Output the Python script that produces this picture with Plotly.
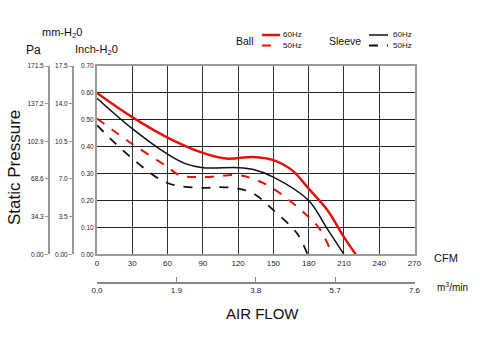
import plotly.graph_objects as go

# ---- data (CFM vs inch-H2O) ----
ball60_x = [0, 30, 60, 90, 110, 133, 150, 166, 180, 196, 210, 220]
ball60_y = [0.60, 0.51, 0.434, 0.377, 0.356, 0.362, 0.35, 0.312, 0.244, 0.164, 0.064, 0.0]

ball50_x = [0, 30, 60, 70, 90, 120, 133, 150, 180, 190, 200]
ball50_y = [0.505, 0.41, 0.325, 0.294, 0.287, 0.294, 0.28, 0.244, 0.139, 0.09, 0.0]

sleeve60_x = [0, 30, 60, 75, 90, 120, 133, 150, 180, 195, 210]
sleeve60_y = [0.58, 0.467, 0.372, 0.337, 0.322, 0.322, 0.315, 0.287, 0.2, 0.10, 0.0]

sleeve50_x = [0, 30, 60, 90, 105, 120, 133, 150, 170, 179]
sleeve50_y = [0.48, 0.356, 0.265, 0.247, 0.25, 0.244, 0.226, 0.164, 0.078, 0.0]

cfm_ticks = [0, 30, 60, 90, 120, 150, 180, 210, 240, 270]
inch_ticks = [0.0, 0.1, 0.2, 0.3, 0.4, 0.5, 0.6, 0.7]
m3_ticks = [0.0, 1.9, 3.8, 5.7, 7.6]
m3_labels = ["0.0", "1.9", "3.8", "5.7", "7.6"]
pa_ticks = [0, 34.3, 68.6, 102.9, 137.2, 171.5]
pa_labels = ["0.00", "34.3", "68.6", "102.9", "137.2", "171.5"]
mm_ticks = [0, 3.5, 7.0, 10.5, 14.0, 17.5]
mm_labels = ["0.00", "3.5", "7.0", "10.5", "14.0", "17.5"]

groups = ["Ball", "Sleeve"]
freqs = ["60Hz", "50Hz"]

FONT = "Liberation Sans Narrow, Liberation Sans, Arial, sans-serif"
SANS = "Liberation Sans, Arial, sans-serif"
RED = "#e3120b"
BLK = "#111111"

series = [
    (ball60_x, ball60_y, RED, 2.5, "solid"),
    (ball50_x, ball50_y, RED, 2.0, "dash"),
    (sleeve60_x, sleeve60_y, BLK, 1.5, "solid"),
    (sleeve50_x, sleeve50_y, BLK, 1.8, "dash"),
]

fig = go.Figure()
for xs, ys, c, w, d in series:
    fig.add_trace(go.Scatter(x=xs, y=ys, mode="lines", showlegend=False,
                             line=dict(color=c, width=w, dash=d, shape="spline")))
# empty traces to activate the secondary axes
fig.add_trace(go.Scatter(x=[], y=[], xaxis="x2", yaxis="y", showlegend=False, hoverinfo="skip"))
fig.add_trace(go.Scatter(x=[], y=[], xaxis="x", yaxis="y2", showlegend=False, hoverinfo="skip"))
fig.add_trace(go.Scatter(x=[], y=[], xaxis="x", yaxis="y3", showlegend=False, hoverinfo="skip"))

W, H = 480, 339
ML, MR, MT, MB = 20, 20, 20, 20
pw, ph = W - ML - MR, H - MT - MB
def px(x): return (x - ML) / pw
def py(y): return (H - MB - y) / ph

xdom = [px(97), px(414.5)]
ydom = [py(254.3), py(66)]

fig.update_layout(
    width=W, height=H, margin=dict(l=ML, r=MR, t=MT, b=MB),
    paper_bgcolor="white", plot_bgcolor="white", showlegend=False,
    font=dict(family=FONT, color="#222", size=8),
    xaxis=dict(domain=xdom, range=[0, 270], tickvals=cfm_ticks, showgrid=True,
               gridcolor="#333", gridwidth=1.3, showline=True, linecolor="#999",
               linewidth=2, mirror=True, zeroline=False, ticks="",
               tickfont=dict(size=8, family=FONT), anchor="y"),
    yaxis=dict(domain=ydom, range=[0, 0.7], tickvals=inch_ticks, tickformat=".2f",
               showgrid=True, gridcolor="#222", gridwidth=1.3, showline=True,
               linecolor="#999", linewidth=2, mirror=True, zeroline=False, ticks="",
               tickfont=dict(size=6.5, family=FONT), anchor="x"),
    xaxis2=dict(overlaying="x", anchor="free", position=py(282.7), side="bottom",
                range=[0, 7.6], tickvals=m3_ticks, ticktext=m3_labels, showgrid=False,
                showline=True, linecolor="#888", linewidth=1.5, ticks="inside",
                ticklen=5, tickcolor="#888", zeroline=False,
                tickfont=dict(size=8, family=FONT)),
    yaxis2=dict(overlaying="y", anchor="free", position=px(49), side="left",
                range=[0, 171.5], tickvals=pa_ticks, ticktext=pa_labels, showgrid=False,
                showline=True, linecolor="#999", linewidth=2, ticks="outside",
                ticklen=3, tickcolor="#999", zeroline=False,
                tickfont=dict(size=6.5, family=FONT)),
    yaxis3=dict(overlaying="y", anchor="free", position=px(73), side="left",
                range=[0, 17.5], tickvals=mm_ticks, ticktext=mm_labels, showgrid=False,
                showline=True, linecolor="#999", linewidth=2, ticks="outside",
                ticklen=3, tickcolor="#999", zeroline=False,
                tickfont=dict(size=6.5, family=FONT)),
)

# ---- manual legend (key samples + labels) ----
leg = [
    (groups[0], 245, 262, 280, 292, [(RED, 2.5, "solid"), (RED, 2.0, "dash")]),
    (groups[1], 345, 369, 388, 402, [(BLK, 1.5, "solid"), (BLK, 1.8, "dash")]),
]
for name, tx, lx0, lx1, fx, keys in leg:
    fig.add_annotation(text=name, x=px(tx), y=py(41), xref="paper", yref="paper",
                       showarrow=False, xanchor="center", yanchor="middle",
                       font=dict(size=10.5, family=SANS, color="#111"))
    for (c, w, d), f, yy in zip(keys, freqs, [35, 45.5]):
        fig.add_shape(type="line", xref="paper", yref="paper",
                      x0=px(lx0), x1=px(lx1), y0=py(yy), y1=py(yy),
                      line=dict(color=c, width=w, dash=d))
        fig.add_annotation(text=f, x=px(fx), y=py(yy), xref="paper", yref="paper",
                           showarrow=False, xanchor="center", yanchor="middle",
                           font=dict(size=8, family=SANS, color="#111"))

ann = [
    dict(text="Pa", x=px(33), y=py(50), size=12),
    dict(text="mm-H<sub>2</sub>0", x=px(62), y=py(33), size=11),
    dict(text="Inch-H<sub>2</sub>0", x=px(96), y=py(50), size=11),
    dict(text="CFM", x=px(446), y=py(258), size=11),
    dict(text="m<sup>3</sup>/min", x=px(452), y=py(287), size=10),
    dict(text="AIR FLOW", x=px(262), y=py(313), size=15),
]
for a in ann:
    fig.add_annotation(text=a["text"], x=a["x"], y=a["y"], xref="paper", yref="paper",
                       showarrow=False, xanchor="center", yanchor="middle",
                       font=dict(size=a["size"], family=SANS, color="#111"))
fig.add_annotation(text="Static Pressure", x=px(14), y=py(168), xref="paper", yref="paper",
                   showarrow=False, textangle=-90, xanchor="center", yanchor="middle",
                   font=dict(size=17, family=SANS, color="#111"))

fig.write_html("out.html")
